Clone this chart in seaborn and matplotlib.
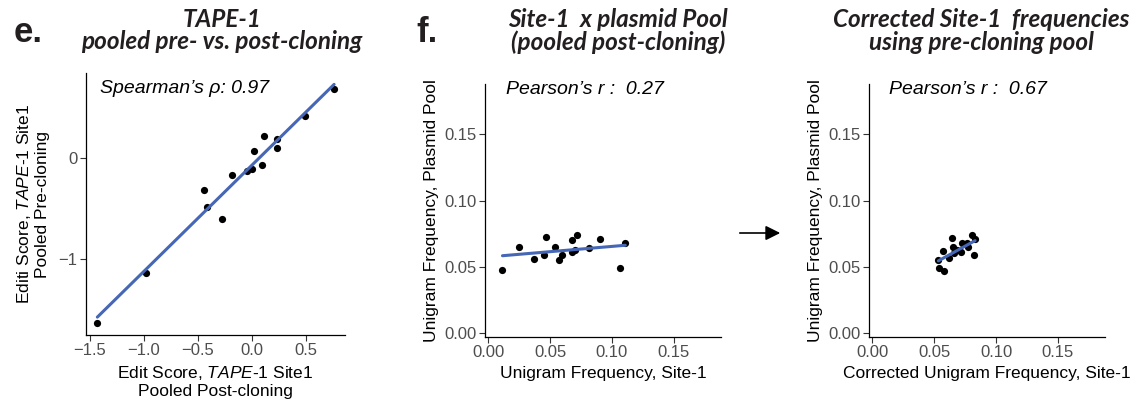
import numpy as np
import pandas as pd
import matplotlib
matplotlib.use("Agg")
import matplotlib.pyplot as plt
import seaborn as sns

# ---------------- data ----------------
e_post = [-1.432, -0.981, -0.441, -0.420, -0.281, -0.185, -0.043, -0.003, 0.019,
          0.090, 0.111, 0.235, 0.235, 0.494, 0.759]
e_pre = [-1.627, -1.139, -0.315, -0.486, -0.600, -0.170, -0.125, -0.105, 0.066,
         -0.066, 0.217, 0.184, 0.095, 0.410, 0.682]

f_site1 = [0.0114, 0.0246, 0.0373, 0.0446, 0.0468, 0.0543, 0.0568, 0.0592, 0.0676,
           0.0679, 0.0703, 0.0716, 0.0816, 0.0906, 0.1062, 0.1108]
f_plasmid = [0.0475, 0.0653, 0.0563, 0.0590, 0.0724, 0.0651, 0.0550, 0.0593, 0.0616,
             0.0704, 0.0628, 0.0744, 0.0641, 0.0711, 0.0495, 0.0679]

g_corrected = [0.0533, 0.0536, 0.0580, 0.0570, 0.0640, 0.0620, 0.0650, 0.0663, 0.0682,
               0.0720, 0.0728, 0.0770, 0.0768, 0.0804, 0.0830, 0.0820]
g_plasmid = [0.0550, 0.0495, 0.0474, 0.0623, 0.0721, 0.0566, 0.0651, 0.0603, 0.0628,
             0.0610, 0.0679, 0.0650, 0.0679, 0.0744, 0.0711, 0.0588]

e_xticks = [-1.5, -1.0, -0.5, 0.0, 0.5]
e_yticks = [-1, 0]
freq_ticks = [0.00, 0.05, 0.10, 0.15]

# ---------------- style ----------------
sns.set_theme(style="ticks")
plt.rcParams["font.family"] = ["Liberation Sans", "DejaVu Sans"]
plt.rcParams["mathtext.fontset"] = "custom"
plt.rcParams["mathtext.rm"] = "Liberation Sans"
plt.rcParams["mathtext.it"] = "Liberation Sans:italic"

W, H = 1140, 404
fig = plt.figure(figsize=(W / 100, H / 100), dpi=100)
fig.patch.set_facecolor("white")


def px_axes(l, t, r, b):
    return fig.add_axes([l / W, 1 - b / H, (r - l) / W, (b - t) / H])


axE = px_axes(86, 73, 345, 335)
axF = px_axes(485.3, 84, 720.7, 336.7)
axG = px_axes(869.3, 84, 1105, 336.7)

LINE_COLOR = "#4567B5"
scat = dict(s=27, color="black", linewidths=0, alpha=1)
line = dict(color=LINE_COLOR, lw=2.2)

dfE = pd.DataFrame({"post": e_post, "pre": e_pre})
dfF = pd.DataFrame({"site1": f_site1, "plasmid": f_plasmid})
dfG = pd.DataFrame({"corr": g_corrected, "plasmid": g_plasmid})

sns.regplot(data=dfE, x="post", y="pre", ax=axE, ci=None, scatter_kws=scat, line_kws=line)
sns.regplot(data=dfF, x="site1", y="plasmid", ax=axF, ci=None, scatter_kws=scat, line_kws=line)
sns.regplot(data=dfG, x="corr", y="plasmid", ax=axG, ci=None, scatter_kws=scat, line_kws=line)

TICK_FS = 12
LAB_FS = 12.5

for ax in (axE, axF, axG):
    sns.despine(ax=ax)
    for s in ("left", "bottom"):
        ax.spines[s].set_color("black")
        ax.spines[s].set_linewidth(0.9)
    ax.tick_params(axis="both", length=4, width=0.8, color="#333333",
                   labelcolor="#4D4D4D", labelsize=TICK_FS, pad=2)
    ax.grid(False)

axE.set_xlim(-1.537, 0.86)
axE.set_ylim(-1.75, 0.84)
axE.set_xticks(e_xticks)
axE.set_xticklabels(["\u22121.5", "\u22121.0", "\u22120.5", "0.0", "0.5"])
axE.set_yticks(e_yticks)
axE.set_yticklabels(["\u22121", "0"])
axE.set_xlabel("Edit Score, $\\it{TAPE}$-$\\it{1}$ Site1\nPooled Post-cloning",
               fontsize=LAB_FS, color="black", labelpad=4)
axE.set_ylabel("Editi Score, $\\it{TAPE}$-$\\it{1}$ Site1\nPooled Pre-cloning",
               fontsize=LAB_FS, color="black", labelpad=6)

for ax in (axF, axG):
    ax.set_xlim(-0.0025, 0.188)
    ax.set_ylim(-0.0025, 0.188)
    ax.set_xticks(freq_ticks)
    ax.set_yticks(freq_ticks)
    ax.set_xticklabels([f"{v:.2f}" for v in freq_ticks])
    ax.set_yticklabels([f"{v:.2f}" for v in freq_ticks])
    ax.set_ylabel("Unigram Frequency, Plasmid Pool", fontsize=LAB_FS, color="black", labelpad=4)

axF.set_xlabel("Unigram Frequency, Site-1", fontsize=LAB_FS, color="black", labelpad=4)
axG.set_xlabel("Corrected Unigram Frequency, Site-1", fontsize=LAB_FS, color="black", labelpad=4)

ANN_FS = 14
axE.text(0.054, 0.939, "Spearman\u2019s \u03c1: 0.97", transform=axE.transAxes,
         fontsize=ANN_FS, style="italic", ha="left", va="center", color="black")
axF.text(0.087, 0.979, "Pearson\u2019s r :  0.27", transform=axF.transAxes,
         fontsize=ANN_FS, style="italic", ha="left", va="center", color="black")
axG.text(0.085, 0.979, "Pearson\u2019s r :  0.67", transform=axG.transAxes,
         fontsize=ANN_FS, style="italic", ha="left", va="center", color="black")

# titles
TITLE_FS = 17.5
tkw = dict(fontsize=TITLE_FS, fontweight="bold", style="italic", family="Lato",
           ha="center", va="baseline", color="#231F20")


def ftext(x, y, s, **kw):
    fig.text(x / W, 1 - y / H, s, **kw)


ftext(222, 27, "TAPE-1", **tkw)
ftext(222, 49, "pooled pre- vs. post-cloning", **tkw)
ftext(618, 27, "Site-1  x plasmid Pool", **tkw)
ftext(618, 50, "(pooled post-cloning)", **tkw)
ftext(981, 27, "Corrected Site-1  frequencies", **tkw)
ftext(981, 50, "using pre-cloning pool", **tkw)

# panel letters
pkw = dict(fontsize=25, fontweight="bold", ha="left", va="baseline", color="#231F20")
ftext(14, 42, "e.", **pkw)
ftext(416, 42, "f.", **pkw)

# arrow between f and corrected panel
axG.annotate("", xy=(783, H - 233), xytext=(737, H - 233),
             xycoords="figure pixels", textcoords="figure pixels",
             arrowprops=dict(arrowstyle="-|>", color="black", lw=1.2, mutation_scale=22),
             annotation_clip=False)

fig.savefig("out.png", dpi=100, facecolor="white")
